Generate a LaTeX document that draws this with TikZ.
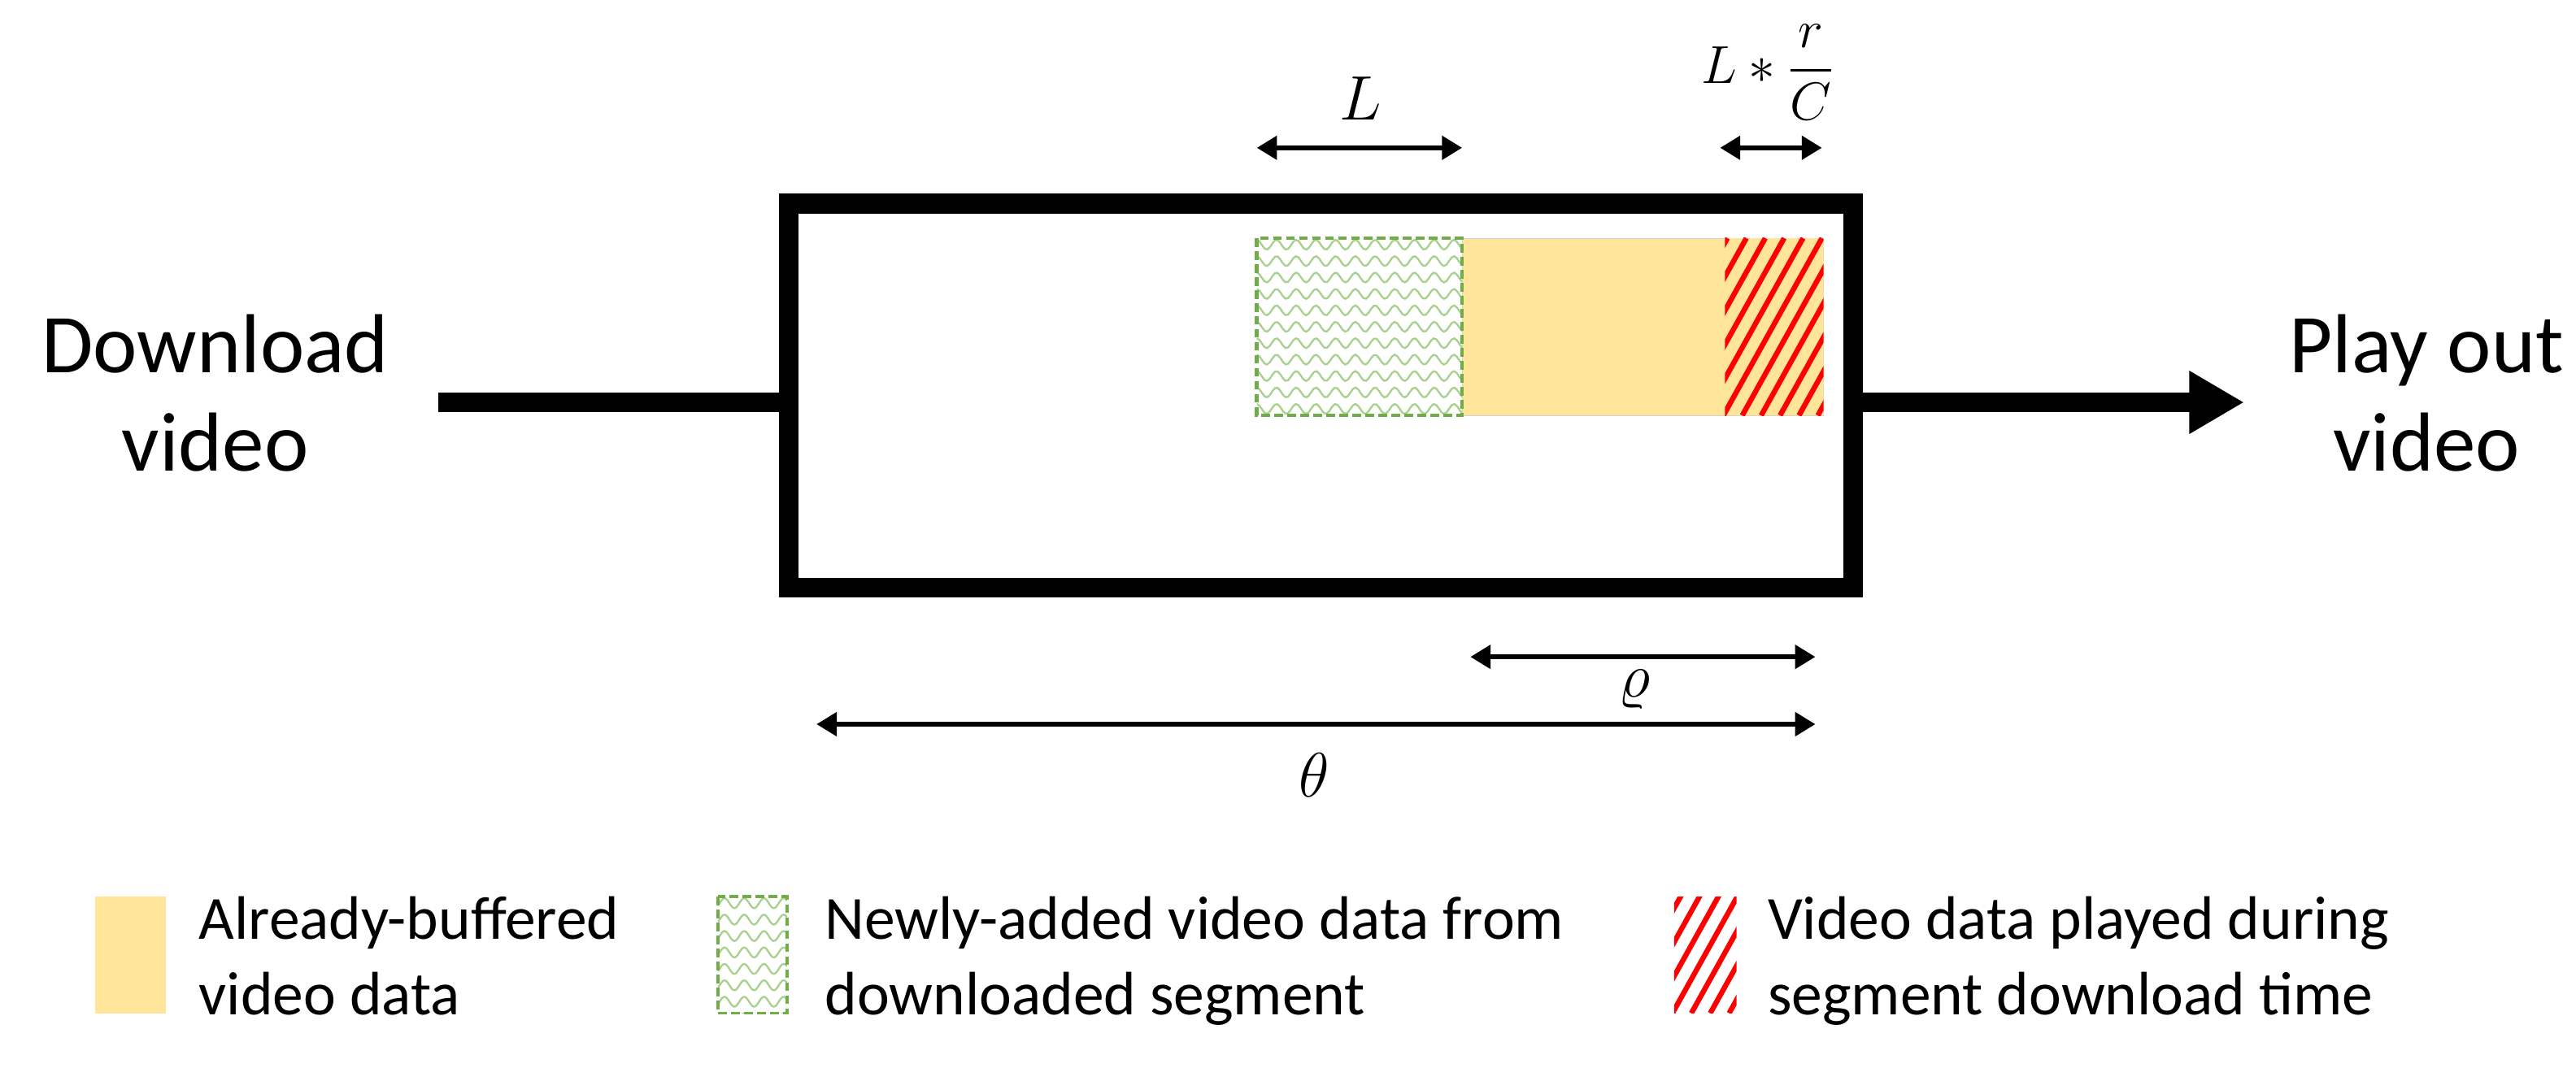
\documentclass[tikz,border=0pt]{standalone}
\usepackage{amsmath}
\usepackage{fontspec}
\setmainfont{Carlito}
\usetikzlibrary{arrows.meta}
\newcommand\wavefill[4]{%
  \begin{scope}
  \clip (#1,#2) rectangle (#3,#4);
  \pgfmathsetmacro\ya{#2+4}
  \foreach \k in {0,...,12}{
    \pgfmathsetmacro\yb{\ya+10*\k}
    \draw[wave] plot[domain=#1:#3,samples=80] (\x,{\yb+3*sin(mod(\x,12)*30)});
  }
  \end{scope}}
\newcommand\stripefill[5]{%
  \begin{scope}
  \clip (#1,#2) rectangle (#3,#4);
  \fill[#5] (#1,#2) rectangle (#3,#4);
  \foreach \k in {0,...,18}{
    \pgfmathsetmacro\xs{#1-70+11.5*\k}
    \draw[stripe] (\xs,#4) -- ++(60,-108);
  }
  \end{scope}}
\begin{document}
\begin{tikzpicture}[x=0.04cm,y=-0.04cm,
  buf/.style={fill={rgb,255:red,255;green,229;blue,153}},
  wave/.style={draw={rgb,255:red,169;green,209;blue,142},line width=1.3pt},
  stripe/.style={draw=red,line width=3.6pt},
  gbord/.style={draw={rgb,255:red,112;green,173;blue,71},line width=2.5pt,dash pattern=on 6pt off 3pt},
  dim/.style={line width=3.4pt,{Triangle[length=14pt,width=16pt]}-{Triangle[length=14pt,width=16pt]}},
  big/.style={font=\fontsize{58}{62}\selectfont,anchor=base},
  leg/.style={font=\fontsize{42.5}{50}\selectfont,anchor=base west},
  mth/.style={font=\Huge,scale=1.75}]
\useasboundingbox (0,0) rectangle (1568,650);
% buffer contents
\fill[buf] (890,145) rectangle (1110,253);
\draw[draw={rgb,255:red,210;green,210;blue,210},line width=0.5pt] (890,145) rectangle (1110,253);
\stripefill{1050}{145}{1110}{253}{buf}
\fill[white] (765,145) rectangle (890,253);
\wavefill{765}{145}{890}{253}
\draw[gbord] (765,145) rectangle (890,253);
% box
\node[draw,line width=13.6pt,minimum width=660*0.04cm-13.6pt,minimum height=246*0.04cm-13.6pt,inner sep=0,outer sep=0] (box) at (804,241) {};
\node[big] (dl) at (131,227) {Download};
\node[big] (dl2) at (131,287) {video};
\node[big] (po) at (1477,227) {Play out};
\node[big] (po2) at (1477,287) {video};
\coordinate (din) at (267,245);
\coordinate (pout) at (1366,245);
\draw[line width=13pt] (din) -- (box.west |- din);
\draw[line width=13pt,-{Triangle[length=38pt,width=41pt]}] (box.east |- din) -- (pout);
% dimensions
\coordinate (l1) at (765,90); \coordinate (l2) at (890,90);
\draw[dim] (l1) -- (l2);
\node[mth] (lt) at (828,60) {$L$};
\coordinate (c1) at (1047,90); \coordinate (c2) at (1109,90);
\draw[dim] (c1) -- (c2);
\node[mth,scale=0.85] (ct) at (1076,44) {$L*\dfrac{r}{C}$};
\coordinate (r1) at (895,400); \coordinate (r2) at (1105,400);
\draw[dim] (r1) -- (r2);
\node[mth] (rt) at (995,420) {$\varrho$};
\coordinate (t1) at (497,441); \coordinate (t2) at (1105,441);
\draw[dim] (t1) -- (t2);
\node[mth] (tt) at (800,472) {$\theta$};
% legend
\fill[buf] (58,546) rectangle (101,617);
\node[leg] (lg1) at (118,572) {Already-buffered};
\node[leg] (lg1b) at (118,618) {video data};
\fill[white] (437,546) rectangle (479,617);
\wavefill{437}{546}{479}{617}
\draw[gbord,line width=2pt] (437,546) rectangle (479,617);
\node[leg] (lg2) at (499,572) {Newly-added video data from};
\node[leg] (lg2b) at (499,618) {downloaded segment};
\stripefill{1019}{546}{1057}{617}{white}
\node[leg] (lg3) at (1073,572) {Video data played during};
\node[leg] (lg3b) at (1073,618) {segment download time};
\end{tikzpicture}
\end{document}
